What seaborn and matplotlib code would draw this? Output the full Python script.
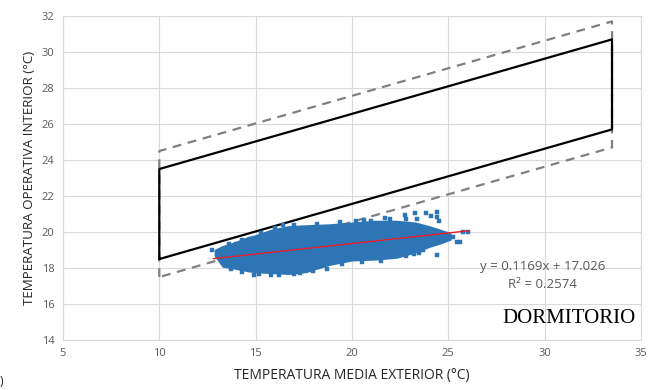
import numpy as np
import matplotlib
matplotlib.use("Agg")
import matplotlib.pyplot as plt
import seaborn as sns
import pandas as pd

# comfort band (solid) and extended band (dashed) corners
band_x = [10, 33.5]
solid_hi = [23.5, 30.7]
solid_lo = [18.5, 25.7]
dash_hi = [24.5, 31.7]
dash_lo = [17.5, 24.7]

cloud_x = [12.9, 13.3, 13.9, 14.6, 15.0, 15.8, 16.7, 17.6, 18.8, 20.0, 21.2, 22.3, 23.3, 24.0, 24.6, 25.1]
cloud_hi = [19.0, 19.2, 19.4, 19.7, 19.8, 20.1, 20.3, 20.35, 20.4, 20.5, 20.6, 20.6, 20.5, 20.3, 20.1, 19.9]
cloud_lo = [18.7, 18.1, 18.0, 17.85, 17.8, 17.75, 17.7, 17.8, 18.2, 18.45, 18.5, 18.6, 18.9, 19.2, 19.4, 19.6]

# scattered points around the cloud
pts_x = [12.72, 13.2, 13.4, 14.0, 14.9, 15.8, 16.4, 17.3, 18.7, 20.2, 21.0, 21.7, 21.97, 22.75,
         23.27, 23.37, 23.87, 24.39, 24.39, 24.39, 21.9, 22.5, 23.2, 23.7, 24.7, 24.9, 25.26,
         25.43, 25.6, 25.78, 26.04, 24.1, 24.5,
         13.6, 14.3, 15.3, 16.0, 17.0, 18.2, 19.4, 20.6, 22.0, 22.8,
         13.7, 14.3, 15.2, 16.2, 17.0, 18.0, 19.5, 20.5, 21.5, 22.8, 23.5]
pts_y = [19.0, 18.9, 18.4, 19.35, 17.6, 17.6, 20.4, 17.75, 17.95, 20.6, 20.6, 20.8, 20.5, 20.94,
         21.04, 20.75, 21.04, 21.13, 20.85, 18.72, 18.8, 18.7, 18.8, 19.0, 19.6, 19.9, 19.74,
         19.46, 19.46, 20.02, 20.02, 20.9, 20.6,
         19.35, 19.55, 19.95, 20.2, 20.4, 20.45, 20.55, 20.65, 20.75, 20.7,
         17.95, 17.8, 17.65, 17.6, 17.65, 17.85, 18.2, 18.35, 18.4, 18.65, 18.85]

# linear trend shown on the chart
slope = 0.1169
intercept = 17.026
trend_x = [12.8, 26.1]

blue = "#2E75B6"
grey_txt = "#595959"

sns.set_theme(style="whitegrid")
plt.rcParams["font.family"] = ["Open Sans", "DejaVu Sans"]

fig, ax = plt.subplots(figsize=(6.56, 3.9), dpi=100)
fig.subplots_adjust(left=0.096, right=0.977, top=0.959, bottom=0.128)

# dashed outer band
dx = [band_x[0], band_x[0], band_x[1], band_x[1], band_x[0]]
dy = [dash_lo[0], dash_hi[0], dash_hi[1], dash_lo[1], dash_lo[0]]
ax.plot(dx, dy, color="#808080", lw=1.6, ls=(0, (4, 3)), zorder=2)

# solid comfort band
sx = [band_x[0], band_x[0], band_x[1], band_x[1], band_x[0]]
sy = [solid_lo[0], solid_hi[0], solid_hi[1], solid_lo[1], solid_lo[0]]
ax.plot(sx, sy, color="black", lw=1.6, zorder=3)

# measured cloud
ax.fill_between(cloud_x, cloud_lo, cloud_hi, color=blue, lw=1.5, edgecolor=blue, zorder=4)
pts = pd.DataFrame({"x": pts_x, "y": pts_y})
sns.scatterplot(data=pts, x="x", y="y", ax=ax, marker="s", s=9, color=blue,
                edgecolor=blue, linewidth=0.3, zorder=5)

trend = pd.DataFrame({"x": trend_x, "y": [slope * v + intercept for v in trend_x]})
sns.lineplot(data=trend, x="x", y="y", ax=ax, color="#E8202A", lw=1.0, zorder=6)

ax.set_xlim(5, 35)
ax.set_ylim(14, 32)
ax.set_xticks(range(5, 36, 5))
ax.set_yticks(range(14, 33, 2))
ax.grid(True, color="#D9D9D9", lw=0.8)
ax.tick_params(axis="both", length=0, labelsize=8, labelcolor=grey_txt, pad=6)
for sp in ax.spines.values():
    sp.set_color("#D9D9D9")
    sp.set_linewidth(0.8)

ax.set_xlabel("TEMPERATURA MEDIA EXTERIOR (°C)", fontsize=10, color="#262626", labelpad=6)
ax.set_ylabel("TEMPERATURA OPERATIVA INTERIOR (°C)", fontsize=9.6, color="#262626", labelpad=4)

ax.text(29.9, 18.1, "y = 0.1169x + 17.026", fontsize=9.5, color=grey_txt, ha="center", va="center")
ax.text(29.9, 17.1, "R² = 0.2574", fontsize=9.5, color=grey_txt, ha="center", va="center")
ax.text(34.7, 15.2, "DORMITORIO", fontsize=15, family=["Liberation Serif", "DejaVu Serif"],
        color="black", ha="right", va="center")

fig.text(0.0, 0.005, ")", fontsize=9, color="#262626", ha="left", va="bottom")

fig.savefig("out.png", dpi=100)
